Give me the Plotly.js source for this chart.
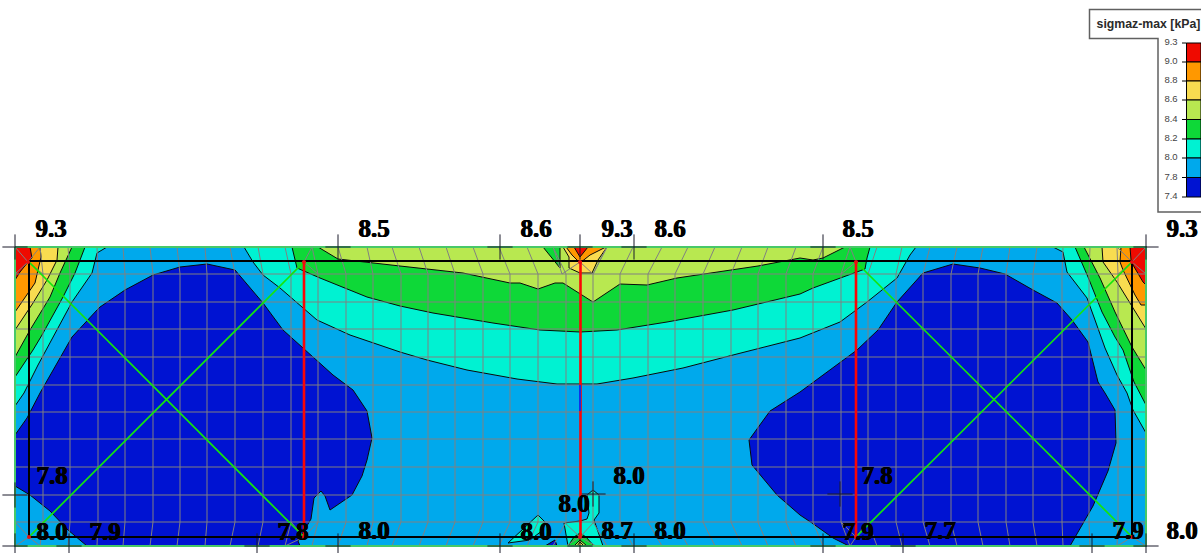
<!DOCTYPE html>
<html>
<head>
<meta charset="utf-8">
<script src="https://cdn.plot.ly/plotly-3.0.1.min.js"></script>
<style>html,body{margin:0;padding:0;background:#fff}#chart{width:1201px;height:553px}</style>
</head>
<body>
<div id="chart"></div>
<script>
// Stress bands, in the plane of the picture
const colBlue='#0013d2',colSky='#00a9ec',colCyan='#00f2d2',colGreen='#0ed838',colLime='#b8e850',colYellow='#f8dc50',colOrange='#ff9800',colRed='#ef0a00';

const plateX=[15,1146,1146,15];
const plateY=[247,247,546,546];

const cyanLeft=[[15,406],[24,393],[38,365],[72,302],[92,273],[97,253],[107,247],[15,247]];
const cyanCenter=[[244,247],[253,262],[263,275],[280,288],[317,320],[350,335],[400,352],[427,360],[467,370],[517,379],[557,384],[597,384],[633,378],[683,368],[733,355],[800,338],[840,322],[867,302],[897,278],[903,267],[910,255],[916,247]];
const cyanRight=[[1053,247],[1063,252],[1067,272],[1087,298],[1095,320],[1105,348],[1117,375],[1127,393],[1133,410],[1146,433],[1146,247]];

const greenLeft=[[15,377],[33,350],[42,335],[63,297],[75,273],[85,247],[15,247]];
const greenCenter=[[292,247],[297,268],[320,278],[367,297],[400,306],[433,313],[493,323],[540,330],[580,332],[617,330],[667,322],[733,310],[800,294],[813,288],[865,269],[867,258],[870,247]];
const greenRight=[[1075,247],[1088,277],[1102,312],[1115,337],[1123,350],[1134,382],[1146,405],[1146,247]];

const limeLeft=[[15,357],[30,330],[50,297],[60,273],[72,247],[15,247]];
const limeCenter=[[318,247],[338,259],[400,266],[463,273],[510,283],[520,283],[538,289],[555,283],[563,283],[593,302],[620,284],[647,285],[677,278],[733,270],[758,266],[800,258],[813,260],[823,258],[845,247]];
const limeRight=[[1084,247],[1100,278],[1115,312],[1132,347],[1146,370],[1146,247]];

const yellowLeft=[[15,330],[33,303],[47,280],[57,260],[58,247],[15,247]];
const yellowRight=[[1102,247],[1103,262],[1117,282],[1130,303],[1146,329],[1146,247]];
const orangeLeft=[[15,312],[28,293],[35,283],[41,257],[40,247],[15,247]];
const orangeRight=[[1121,247],[1120,262],[1123,270],[1135,295],[1141,305],[1146,305],[1146,247]];
const redLeft=[[15,247],[30,247],[32,258],[28,262],[20,272],[15,280]];
const redRight=[[1130,247],[1131,260],[1133,265],[1143,282],[1146,285],[1146,247]];

const darkLeft=[[40,393],[72,337],[97,310],[100,307],[125,290],[153,275],[180,267],[207,264],[235,270],[263,303],[283,330],[305,350],[333,375],[353,390],[367,411],[372,438],[367,460],[362,476],[352,495],[330,510],[325,496],[321,491],[314,498],[311,519],[298,541],[300,546],[87,546],[68,530],[50,511],[30,495],[15,486],[15,435],[27,418]];
const darkRight=[[800,392],[857,350],[878,330],[897,302],[923,273],[953,264],[980,268],[1005,274],[1033,290],[1057,303],[1072,320],[1088,342],[1093,362],[1098,382],[1105,393],[1115,410],[1116,443],[1108,471],[1093,506],[1070,546],[849,546],[833,538],[812,523],[800,515],[777,495],[752,465],[749,440],[770,411]];

const wedgeGreen=[[543,247],[560,247],[560,268]];
const topYellow=[[563,247],[569,257],[569,268],[580,273],[592,273],[598,260],[607,247]];
const topOrange=[[566,247],[572,255],[580,263],[590,255],[606,247]];
const topRed=[[574,247],[580,257],[588,247]];

const baseCyanBlob=[[508,543],[520,532],[538,515],[545,522],[543,530],[530,540]];
const baseBlueTip=[[545,546],[555,540],[557,546]];
const baseCyanStem=[[568,546],[565,530],[564,523],[580,521],[587,519],[589,513],[587,495],[593,490],[599,495],[599,513],[594,520],[603,546]];
const baseGreen=[[568,546],[574,537],[580,533],[586,537],[594,546]];
const baseLime=[[574,546],[580,540],[587,546]];
const baseYellow=[[577,546],[580,542],[584,546]];

// Mesh
const meshCols=[43,70,98,125,153,180,207,235,263,291,318,346,373,401,428,455,483,510,538,566,593,620,648,675,703,731,758,786,813,841,868,896,923,951,978,1006,1033,1062,1089,1118];
const meshColEnds=[40,68,97,123,150,177,205,230,258,285,312,338,367,392,419,446,473,499,527,553,607,633,662,688,715,742,768,796,823,850,877,902,930,957,983,1010,1037,1063,1090,1117];
const meshRows=[274,302,329,357,385,412,439,467,495,522];
const meshTop=247, meshBottom=546, meshRowTop=274, meshRowBottom=522, meshLeft=15, meshRight=1146;
const fanSegments=[
 [[15,247],[28,262]],[[28,262],[15,274]],[[28,262],[43,274]],[[28,262],[40,247]],
 [[304,262],[291,274]],[[304,262],[318,274]],[[304,262],[312,247]],
 [[580,262],[562,274]],[[580,262],[593,274]],[[607,247],[593,274]],[[553,247],[562,274]],
 [[856,262],[841,274]],[[856,262],[868,274]],[[856,262],[850,247]],
 [[1132,262],[1146,247]],[[1132,262],[1146,274]],[[1132,262],[1118,274]],[[1132,262],[1117,247]],
 [[29,537],[15,522]],[[29,537],[43,522]],[[29,537],[15,546]],[[29,537],[40,546]],
 [[304,537],[291,522]],[[304,537],[318,522]],[[304,537],[285,546]],
 [[580,537],[564,522],[540,522]],[[580,537],[594,522],[620,522]],[[580,537],[566,546]],[[580,537],[596,546]],
 [[856,537],[841,522]],[[856,537],[868,522]],[[856,537],[850,546]],
 [[1132,537],[1146,522]],[[1132,537],[1118,522]],[[1132,537],[1146,546]],[[1132,537],[1117,546]]
];

// Frame of the structure
const beamX=[29,1132,1132,29,29];
const beamY=[261,261,537,537,261];
const columnX=[304,580.5,856];
const columnTop=261, columnBottom=537;
const markerLineX=[580,580];
const markerLineY=[385,411];
const braceA=[[29,262],[304,537]];
const braceB=[[304,262],[29,537]];
const braceC=[[856,262],[1132,537]];
const braceD=[[1132,262],[856,537]];
const nodeX=[28,304,580,856,1132,29,304,580,856,1132];
const nodeY=[262,262,262,262,262,537,537,537,537,537];

const crossX=[15,338,500,580,634,823,1146,15,69,257,338,500,580,634,823,903,1092,1146,15,593,840];
const crossY=[247,247,247,247,247,247,247,546,546,546,546,546,546,546,546,546,546,546,495,494,494];

// Value labels
const labelText=['9.3','8.5','8.6','9.3','8.6','8.5','9.3','7.8','8.0','7.9','7.8','8.0','8.0','8.0','8.0','8.7','8.0','7.8','7.9','7.7','7.9','8.0'];
const labelX=[51,374,536,617,670,858,1182,52,52,105,293,374,629,574,536,617,670,877,858,940,1128,1182];
const labelY=[231,231,231,231,231,231,231,478,534,534,534,533,478,506,534,533,533,478,534,533,533,533];

// Legend
const legendTitle='sigmaz-max [kPa]';
const legendLabels=['9.3','9.0','8.8','8.6','8.4','8.2','8.0','7.8','7.4'];
const legendColors=[colRed,colOrange,colYellow,colLime,colGreen,colCyan,colSky,colBlue];
const legendEdges=[43,62,81,100,119.5,139,158,177.5,197];
const legendSwatchLeft=1186.5, legendSwatchRight=1201, legendTickLeft=1182, legendTextX=1171;

const traces=[];
function band(points,color,outline){
  const xs=points.map(p=>p[0]).concat(points[0][0]);
  const ys=points.map(p=>p[1]).concat(points[0][1]);
  traces.push({x:xs,y:ys,mode:'lines',fill:'toself',fillcolor:color,
    line:{color:outline===false?color:'#0a0a0a',width:1},hoverinfo:'skip',showlegend:false});
}
function lines(xs,ys,color,width){
  traces.push({x:xs,y:ys,mode:'lines',line:{color:color,width:width},hoverinfo:'skip',showlegend:false,connectgaps:false});
}

band(plateX.map((x,i)=>[x,plateY[i]]),colSky,false);
[[cyanLeft,colCyan],[cyanCenter,colCyan],[cyanRight,colCyan],
 [greenLeft,colGreen],[greenCenter,colGreen],[greenRight,colGreen],
 [limeLeft,colLime],[limeCenter,colLime],[limeRight,colLime],
 [yellowLeft,colYellow],[yellowRight,colYellow],
 [orangeLeft,colOrange],[orangeRight,colOrange],
 [redLeft,colRed],[redRight,colRed],
 [darkLeft,colBlue],[darkRight,colBlue],
 [wedgeGreen,colGreen],[topYellow,colYellow],[topOrange,colOrange],[topRed,colRed],
 [baseCyanBlob,colCyan],[baseBlueTip,colBlue],[baseCyanStem,colCyan],[baseGreen,colGreen],[baseLime,colLime],[baseYellow,colYellow]
].forEach(b=>band(b[0],b[1]));

// mesh
const mx=[],my=[];
meshCols.forEach((c,i)=>{
  mx.push(meshColEnds[i],c,c,meshColEnds[i],null);
  my.push(meshTop,meshRowTop,meshRowBottom,meshBottom,null);
});
meshRows.forEach(r=>{mx.push(meshLeft,meshRight,null);my.push(r,r,null);});
fanSegments.forEach(s=>{s.forEach(p=>{mx.push(p[0]);my.push(p[1]);});mx.push(null);my.push(null);});
lines(mx,my,'#808080',1);

// plate border
lines(plateX.concat(plateX[0]),plateY.concat(plateY[0]),'#48c868',2);

// crosses
traces.push({x:crossX,y:crossY,mode:'markers',cliponaxis:false,hoverinfo:'skip',showlegend:false,
  marker:{symbol:'cross-thin',size:18,line:{color:'#1a1a2a',width:1}}});

// diagonal braces
[braceA,braceB,braceC,braceD].forEach(b=>lines(b.map(p=>p[0]),b.map(p=>p[1]),'#14e60c',1.7));
// beams and columns
lines(beamX,beamY,'#000000',2);
const cx=[],cy=[];
columnX.forEach(c=>{cx.push(c,c,null);cy.push(columnTop,columnBottom,null);});
lines(cx,cy,'#fa0606',2.6);
lines(markerLineX,markerLineY,'#1030e8',2);
traces.push({x:nodeX,y:nodeY,mode:'markers',hoverinfo:'skip',showlegend:false,marker:{size:4,color:'#e81010',symbol:'circle'}});

// value labels
traces.push({x:labelX,y:labelY,text:labelText,mode:'text',textposition:'middle center',cliponaxis:false,
  textfont:{family:'"Liberation Serif",serif',size:25,color:'#000',weight:'bold',shadow:'0.6px 0 0 #000, -0.4px 0 0 #000'},hoverinfo:'skip',showlegend:false});

// legend swatches
legendColors.forEach((c,i)=>{
  const t=legendEdges[i],b=legendEdges[i+1];
  traces.push({x:[legendSwatchLeft,legendSwatchRight,legendSwatchRight,legendSwatchLeft,legendSwatchLeft],y:[t,t,b,b,t],
    mode:'lines',fill:'toself',fillcolor:c,line:{color:'#000',width:1},cliponaxis:false,hoverinfo:'skip',showlegend:false});
});
const tx=[],ty=[];
legendEdges.forEach(e=>{tx.push(legendTickLeft,legendSwatchLeft,null);ty.push(e,e,null);});
lines(tx,ty,'#000',1);
traces.push({x:legendEdges.map(()=>legendTextX),y:legendEdges,text:legendLabels,mode:'text',textposition:'middle center',
  textfont:{family:'"Liberation Sans",Arial,sans-serif',size:9.5,color:'#444'},hoverinfo:'skip',showlegend:false});
traces.push({x:[1148.5],y:[25],text:[legendTitle],mode:'text',textposition:'middle center',cliponaxis:false,
  textfont:{family:'"Liberation Sans",Arial,sans-serif',size:12.3,color:'#2a2a2a',weight:'bold'},hoverinfo:'skip',showlegend:false});

const layout={
  width:1201,height:553,margin:{l:0,r:0,t:0,b:0,pad:0},
  paper_bgcolor:'#fff',plot_bgcolor:'#fff',showlegend:false,
  xaxis:{range:[0,1201],visible:false,fixedrange:true},
  yaxis:{range:[553,0],visible:false,fixedrange:true},
  shapes:[{type:'path',path:'M 1089.5 9.5 L 1203 9.5 L 1203 212 L 1158 212 L 1158 38.5 L 1089.5 38.5 Z',
    fillcolor:'#fff',line:{color:'#606060',width:1.5},layer:'below'}]
};
Plotly.newPlot('chart',traces,layout,{displayModeBar:false,staticPlot:true});
</script>
</body>
</html>
